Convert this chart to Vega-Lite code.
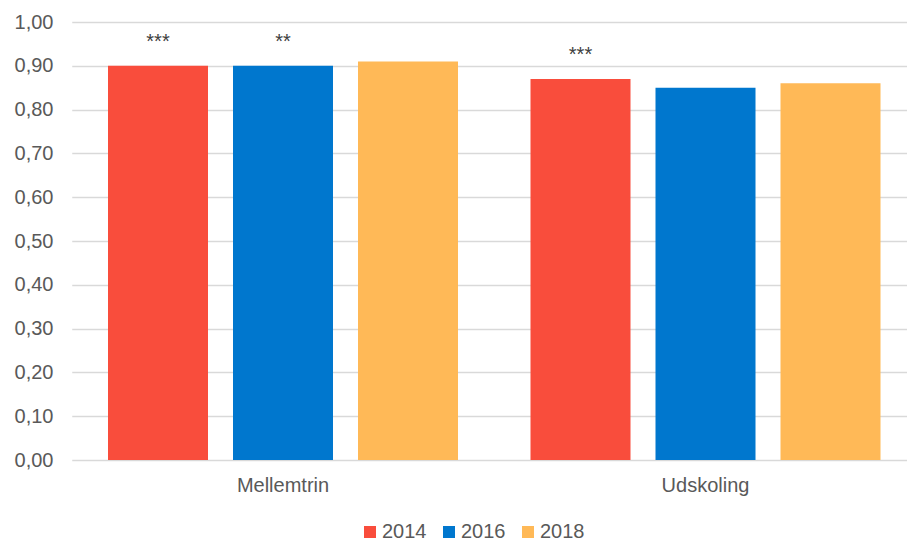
{
  "$schema": "https://vega.github.io/schema/vega-lite/v6.json",
  "autosize": "none",
  "padding": {"left": 71, "top": 22, "right": 0, "bottom": 82},
  "width": 836,
  "height": 438,
  "background": "white",
  "config": {
    "view": {"stroke": null},
    "font": "Liberation Sans",
    "axis": {"labelFont": "Liberation Sans", "labelColor": "#595959", "labelFontSize": 20},
    "legend": {"labelFont": "Liberation Sans"}
  },
  "data": {
    "values": [
      {"gruppe": "Mellemtrin", "aar": "2014", "vaerdi": 0.90, "sig": "***"},
      {"gruppe": "Mellemtrin", "aar": "2016", "vaerdi": 0.90, "sig": "**"},
      {"gruppe": "Mellemtrin", "aar": "2018", "vaerdi": 0.91, "sig": ""},
      {"gruppe": "Udskoling", "aar": "2014", "vaerdi": 0.87, "sig": "***"},
      {"gruppe": "Udskoling", "aar": "2016", "vaerdi": 0.85, "sig": ""},
      {"gruppe": "Udskoling", "aar": "2018", "vaerdi": 0.86, "sig": ""}
    ]
  },
  "encoding": {
    "x": {
      "field": "gruppe",
      "type": "nominal",
      "scale": {"range": [0.75, 845.75], "paddingInner": 0, "paddingOuter": 0},
      "axis": {"title": null, "domain": false, "ticks": false, "labelAngle": 0, "labelPadding": 15, "labelFontSize": 20}
    },
    "xOffset": {
      "field": "aar",
      "type": "nominal",
      "scale": {"paddingInner": 0.2, "paddingOuter": 0.29}
    },
    "y": {
      "field": "vaerdi",
      "type": "quantitative",
      "scale": {"domain": [0, 1], "nice": false},
      "axis": {
        "title": null,
        "domain": false,
        "ticks": false,
        "values": [0, 0.1, 0.2, 0.3, 0.4, 0.5, 0.6, 0.7, 0.8, 0.9, 1.0],
        "labelExpr": "replace(format(datum.value, '.2f'), '.', ',')",
        "labelPadding": 18,
        "gridColor": "#d9d9d9",
        "gridWidth": 1.5,
        "labelFontSize": 20
      }
    }
  },
  "layer": [
    {
      "mark": {"type": "bar"},
      "encoding": {
        "color": {
          "field": "aar",
          "type": "nominal",
          "scale": {"domain": ["2014", "2016", "2018"], "range": ["#F94D3C", "#0077CE", "#FFB957"]},
          "legend": {
            "title": null,
            "orient": "none",
            "direction": "horizontal",
            "legendX": 289,
            "legendY": 500,
            "symbolType": "square",
            "symbolSize": 144,
            "symbolStrokeWidth": 0,
            "labelFontSize": 20,
            "labelColor": "#595959",
            "labelOffset": 2,
            "columnPadding": 12
          }
        }
      }
    },
    {
      "mark": {"type": "text", "dy": -17.5, "baseline": "alphabetic", "fontSize": 20, "color": "#404040"},
      "encoding": {"text": {"field": "sig"}}
    }
  ]
}
